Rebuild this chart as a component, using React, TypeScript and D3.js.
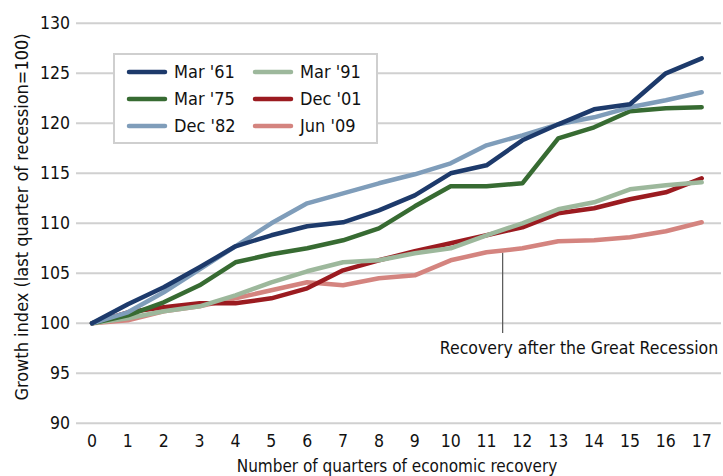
import React, { useRef, useEffect } from 'react';
import * as d3 from 'd3';

// quarters after the trough
const quarters = d3.range(0, 18);

const mar61 = [100, 101.9, 103.6, 105.6, 107.7, 108.8, 109.7, 110.1, 111.3, 112.8, 115.0, 115.8, 118.3, 119.9, 121.4, 121.9, 125.0, 126.5];
const mar75 = [100, 100.8, 102.1, 103.8, 106.1, 106.9, 107.5, 108.3, 109.5, 111.7, 113.7, 113.7, 114.0, 118.5, 119.6, 121.2, 121.5, 121.6];
const dec82 = [100, 101.1, 103.1, 105.4, 107.7, 110.0, 112.0, 113.0, 114.0, 114.9, 116.0, 117.8, 118.8, 119.9, 120.6, 121.6, 122.3, 123.1];
const mar91 = [100, 100.5, 101.2, 101.7, 102.8, 104.1, 105.2, 106.1, 106.3, 107.0, 107.5, 108.8, 110.0, 111.4, 112.1, 113.4, 113.8, 114.1];
const dec01 = [100, 101.1, 101.6, 102.0, 102.0, 102.5, 103.5, 105.3, 106.3, 107.2, 108.0, 108.8, 109.6, 111.0, 111.5, 112.4, 113.1, 114.5];
const jun09 = [100, 100.3, 101.2, 101.7, 102.5, 103.3, 104.1, 103.8, 104.5, 104.8, 106.3, 107.1, 107.5, 108.2, 108.3, 108.6, 109.2, 110.1];

const seriesNames = ["Mar '61", "Mar '75", "Dec '82", "Mar '91", "Dec '01", "Jun '09"];
const seriesValues = [mar61, mar75, dec82, mar91, dec01, jun09];
const seriesColors = ['#1d3a6b', '#376b32', '#7f9dba', '#9db89c', '#9b1b20', '#d4847f'];
// drawing order, back to front
const drawOrder = [5, 4, 3, 1, 2, 0];

const yTicks = [90, 95, 100, 105, 110, 115, 120, 125, 130];
const annotationText = 'Recovery after the Great Recession';
const annotationAt = 11.45; // quarter position of the pointer on Jun '09

const FONT = "'Liberation Sans Narrow', 'DejaVu Sans Condensed', 'Open Sans', sans-serif";

const App = () => {
  const ref = useRef<SVGSVGElement>(null);

  useEffect(() => {
    const svg = d3.select(ref.current).attr('width', 723).attr('height', 476);
    svg.selectAll('*').remove();

    const x = d3.scaleLinear().domain([0, 17]).range([92, 701.7]);
    const y = d3.scaleLinear().domain([90, 130]).range([423.3, 23.3]);

    // grid lines
    svg.append('g')
      .selectAll('line')
      .data(yTicks)
      .enter().append('line')
      .attr('x1', 76).attr('x2', 721)
      .attr('y1', d => y(d)).attr('y2', d => y(d))
      .attr('stroke', '#d0d0d0')
      .attr('stroke-width', 2);

    // y tick labels
    svg.append('g')
      .selectAll('text')
      .data(yTicks)
      .enter().append('text')
      .attr('x', 70)
      .attr('y', d => y(d))
      .attr('dy', '0.35em')
      .attr('text-anchor', 'end')
      .attr('font-family', FONT)
      .attr('font-size', 17.5)
      .attr('fill', '#111')
      .text(d => d);

    // x tick labels
    svg.append('g')
      .selectAll('text')
      .data(quarters)
      .enter().append('text')
      .attr('x', d => x(d))
      .attr('y', 447)
      .attr('text-anchor', 'middle')
      .attr('font-family', FONT)
      .attr('font-size', 17.5)
      .attr('fill', '#111')
      .text(d => d);

    // axis titles
    svg.append('text')
      .attr('x', 397).attr('y', 472)
      .attr('text-anchor', 'middle')
      .attr('font-family', FONT)
      .attr('font-size', 17)
      .attr('fill', '#111')
      .text('Number of quarters of economic recovery');

    svg.append('text')
      .attr('transform', 'translate(28,217) rotate(-90)')
      .attr('text-anchor', 'middle')
      .attr('font-family', FONT)
      .attr('font-size', 18)
      .attr('fill', '#111')
      .text('Growth index (last quarter of recession=100)');

    // annotation pointer
    const jy = d3.scaleLinear().domain([11, 12]).range([jun09[11], jun09[12]]);
    svg.append('line')
      .attr('x1', x(annotationAt)).attr('x2', x(annotationAt))
      .attr('y1', y(jy(annotationAt)) + 2).attr('y2', 333)
      .attr('stroke', '#555')
      .attr('stroke-width', 1.2);

    svg.append('text')
      .attr('x', 579).attr('y', 354)
      .attr('text-anchor', 'middle')
      .attr('font-family', FONT)
      .attr('font-size', 17.5)
      .attr('fill', '#111')
      .text(annotationText);

    // lines
    const line = d3.line<number>()
      .x((_, i) => x(quarters[i]))
      .y(d => y(d));

    svg.append('g')
      .selectAll('path')
      .data(drawOrder)
      .enter().append('path')
      .attr('d', i => line(seriesValues[i]))
      .attr('fill', 'none')
      .attr('stroke', i => seriesColors[i])
      .attr('stroke-width', 4.5)
      .attr('stroke-linejoin', 'round')
      .attr('stroke-linecap', 'round');

    // legend
    const legend = svg.append('g');
    legend.append('rect')
      .attr('x', 114).attr('y', 54)
      .attr('width', 263).attr('height', 89)
      .attr('fill', '#fff')
      .attr('stroke', '#cfcfcf')
      .attr('stroke-width', 2);

    const items = legend.selectAll('g')
      .data(seriesNames)
      .enter().append('g')
      .attr('transform', (_, i) => `translate(${i < 3 ? 129 : 255},${72 + (i % 3) * 27})`);

    items.append('line')
      .attr('x1', 0).attr('x2', 36)
      .attr('stroke', (_, i) => seriesColors[i])
      .attr('stroke-width', 4.5)
      .attr('stroke-linecap', 'round');

    items.append('text')
      .attr('x', 45)
      .attr('dy', '0.35em')
      .attr('font-family', FONT)
      .attr('font-size', 18)
      .attr('fill', '#111')
      .text(d => d);
  }, []);

  return <svg ref={ref} style={{ position: 'absolute', left: 0, top: 0 }}></svg>;
};

export default App;
